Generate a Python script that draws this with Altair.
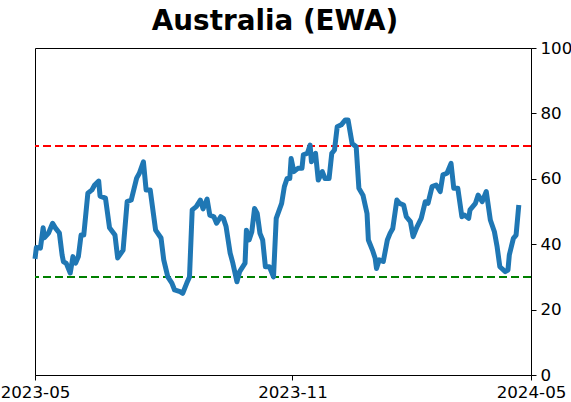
import altair as alt
import pandas as pd

dates = [
    "2023-05-01", "2023-05-02", "2023-05-05", "2023-05-07", "2023-05-08", "2023-05-11", "2023-05-14",
    "2023-05-16", "2023-05-19", "2023-05-21", "2023-05-22", "2023-05-24", "2023-05-27", "2023-05-29",
    "2023-05-31", "2023-06-02", "2023-06-04", "2023-06-06", "2023-06-09", "2023-06-12", "2023-06-14",
    "2023-06-17", "2023-06-18", "2023-06-22", "2023-06-25", "2023-06-29", "2023-07-01", "2023-07-05",
    "2023-07-08", "2023-07-11", "2023-07-15", "2023-07-17", "2023-07-20", "2023-07-22", "2023-07-25",
    "2023-07-29", "2023-08-02", "2023-08-04", "2023-08-07", "2023-08-10", "2023-08-12", "2023-08-16",
    "2023-08-18", "2023-08-21", "2023-08-23", "2023-08-25", "2023-08-28", "2023-08-31", "2023-09-02",
    "2023-09-05", "2023-09-07", "2023-09-10", "2023-09-12", "2023-09-15", "2023-09-17", "2023-09-19",
    "2023-09-22", "2023-09-24", "2023-09-27", "2023-09-29", "2023-10-03", "2023-10-04", "2023-10-06",
    "2023-10-08", "2023-10-10", "2023-10-12", "2023-10-14", "2023-10-16", "2023-10-18", "2023-10-21",
    "2023-10-24", "2023-10-26", "2023-10-30", "2023-11-01", "2023-11-03", "2023-11-05", "2023-11-06",
    "2023-11-08", "2023-11-11", "2023-11-14", "2023-11-15", "2023-11-18", "2023-11-20", "2023-11-21",
    "2023-11-24", "2023-11-26", "2023-11-29", "2023-12-01", "2023-12-04", "2023-12-06", "2023-12-08",
    "2023-12-10", "2023-12-13", "2023-12-16", "2023-12-18", "2023-12-21", "2023-12-24", "2023-12-26",
    "2023-12-29", "2024-01-01", "2024-01-02", "2024-01-05", "2024-01-07", "2024-01-08", "2024-01-10",
    "2024-01-13", "2024-01-16", "2024-01-18", "2024-01-20", "2024-01-23", "2024-01-25", "2024-01-28",
    "2024-01-30", "2024-02-02", "2024-02-04", "2024-02-07", "2024-02-10", "2024-02-13", "2024-02-15",
    "2024-02-18", "2024-02-21", "2024-02-24", "2024-02-26", "2024-02-29", "2024-03-03", "2024-03-05",
    "2024-03-08", "2024-03-11", "2024-03-13", "2024-03-16", "2024-03-17", "2024-03-21", "2024-03-23",
    "2024-03-26", "2024-03-29", "2024-04-01", "2024-04-04", "2024-04-06", "2024-04-08", "2024-04-12",
    "2024-04-14", "2024-04-15", "2024-04-18", "2024-04-20", "2024-04-22",
]

values = [
    35.5, 39.0, 38.8, 45.0, 42.0, 43.4, 46.4,
    45.0, 43.4, 36.7, 34.6, 34.2, 31.2, 36.2,
    34.2, 36.2, 42.8, 42.8, 55.6, 56.6, 58.1,
    59.3, 54.7, 54.1, 45.0, 42.8, 35.8, 38.2,
    53.0, 53.5, 60.2, 61.7, 65.2, 56.6, 56.6,
    44.3, 41.9, 35.2, 30.0, 28.1, 26.0, 25.5,
    25.0, 28.1, 30.0, 50.5, 51.5, 53.5, 50.8,
    53.8, 48.9, 48.4, 46.4, 48.4, 47.9, 45.4,
    37.3, 34.2, 28.5, 31.6, 34.2, 44.3, 41.3,
    43.8, 50.9, 49.4, 43.3, 41.3, 33.1, 33.1,
    30.0, 47.9, 52.5, 57.6, 60.1, 60.1, 66.2,
    62.2, 63.2, 63.2, 67.3, 67.8, 70.3, 65.2,
    67.8, 59.6, 62.2, 60.1, 60.1, 67.8, 68.8,
    75.9, 76.5, 78.0, 78.0, 70.8, 69.8, 57.1,
    55.0, 49.4, 41.3, 38.2, 35.7, 32.6, 35.2,
    34.7, 41.3, 43.3, 44.8, 53.5, 52.5, 52.0,
    48.4, 46.9, 42.3, 45.4, 47.9, 53.0, 52.5,
    57.6, 58.1, 56.1, 61.2, 61.7, 64.7, 57.1,
    57.1, 48.4, 48.9, 47.9, 50.5, 52.5, 55.0,
    53.0, 56.1, 47.4, 43.8, 39.2, 33.1, 31.6,
    32.1, 36.7, 41.8, 42.8, 52.0,
]

ref_levels = [70, 30]
ref_colors = ["red", "green"]
tick_dates = [(2023, 5, 1), (2023, 11, 7), (2024, 5, 1)]

df = pd.DataFrame({"date": dates, "value": values})
refs = pd.DataFrame({"level": ref_levels, "color": ref_colors})

x_scale = alt.Scale(
    type="utc",
    domain=[alt.DateTime(year=2023, month=5, date=1, utc=True),
            alt.DateTime(year=2024, month=5, date=1, utc=True)],
)
y_scale = alt.Scale(domain=[0, 100], nice=False, zero=False)

line = alt.Chart(df).mark_line(
    color="#1f77b4", strokeWidth=5, strokeJoin="round"
).encode(
    x=alt.X("date:T", scale=x_scale, title=None,
            axis=alt.Axis(
                values=[alt.DateTime(year=y, month=m, date=d, utc=True) for (y, m, d) in tick_dates],
                labelExpr="utcFormat(datum.value, '%Y-%m')", grid=False,
                labelFontSize=16.7, labelColor="black", labelFont="DejaVu Sans",
                labelFlush=False, labelOverlap=False, labelPadding=4,
                tickSize=5, tickColor="black", domainColor="black",
            )),
    y=alt.Y("value:Q", scale=y_scale, title=None,
            axis=alt.Axis(
                orient="right", values=[0, 20, 40, 60, 80, 100], grid=False,
                labelFontSize=16.7, labelColor="black", labelFont="DejaVu Sans",
                labelPadding=4, tickSize=5, tickColor="black", domainColor="black",
            )),
)

rules = alt.Chart(refs).mark_rule(strokeWidth=2, strokeDash=[8, 4]).encode(
    y=alt.Y("level:Q", scale=y_scale),
    color=alt.Color("color:N", scale=None),
)

chart = alt.layer(rules, line).properties(
    width=496,
    height=327,
    autosize=alt.AutoSizeParams(type="none"),
    padding={"left": 35, "top": 48, "right": 40, "bottom": 27},
    title=alt.TitleParams(
        "Australia (EWA)", fontSize=27.8, fontWeight="bold",
        font="DejaVu Sans", color="black", anchor="middle", dx=-8,
    ),
).configure_view(stroke="black", strokeWidth=1)

chart.save("out.html", embed_options={"renderer": "svg", "actions": False})
